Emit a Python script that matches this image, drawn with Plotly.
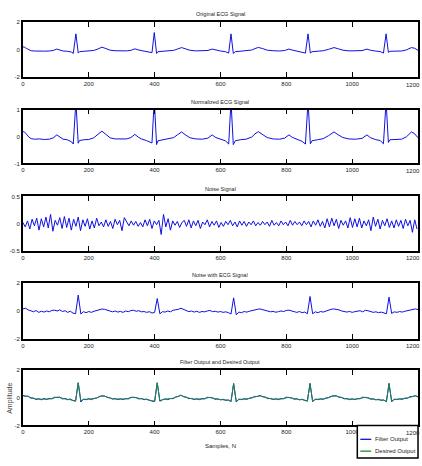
import plotly.graph_objects as go

# ---------------- data ----------------
# Original ECG (knots)
ecg_x = [0, 5, 10, 18, 25, 35, 50, 65, 80, 92, 103, 112, 122, 135, 148, 153, 161, 168, 172, 185,
         200, 215, 228, 240, 252, 265, 280, 300, 315, 328, 340, 350, 360, 375, 387, 392, 399, 406, 410, 425,
         440, 458, 470, 482, 495, 508, 525, 545, 562, 575, 586, 600, 615, 625, 632, 639, 645, 660, 678, 695,
         705, 715, 728, 742, 760, 780, 795, 808, 818, 832, 848, 858, 866, 873, 878, 895, 912, 928, 945, 958,
         972, 990, 1010, 1030, 1045, 1055, 1070, 1085, 1095, 1103, 1110, 1115, 1130, 1150, 1165, 1180, 1190, 1200]
ecg_orig = [0.2, 0.18, 0.1, -0.02, -0.08, -0.1, -0.08, -0.11, -0.1, -0.06, 0.04, -0.02, -0.1, -0.12, -0.18, -0.28, 1.15, -0.25, -0.15, -0.12,
            -0.11, -0.06, 0.05, 0.18, 0.08, -0.04, -0.08, -0.1, -0.09, -0.05, 0.06, -0.02, -0.08, -0.14, -0.2, -0.22, 1.25, -0.28, -0.15, -0.12,
            -0.1, -0.05, 0.05, 0.15, 0.05, -0.05, -0.09, -0.1, -0.06, 0.04, -0.04, -0.1, -0.15, -0.25, 1.15, -0.28, -0.15, -0.12, -0.1, -0.03,
            0.08, 0.16, 0.08, -0.04, -0.08, -0.1, -0.06, 0.04, -0.03, -0.1, -0.17, -0.25, 1.15, -0.25, -0.15, -0.12, -0.08, 0.02, 0.15, 0.06,
            -0.04, -0.09, -0.1, -0.07, 0.04, -0.04, -0.1, -0.14, -0.25, 1.15, -0.2, -0.12, -0.11, -0.1, -0.02, 0.15, 0.1, -0.05]
ecg_norm = [0.18, 0.17, 0.1, -0.02, -0.08, -0.1, -0.09, -0.11, -0.1, -0.05, 0.06, -0.02, -0.1, -0.12, -0.2, -0.28, 1.3, -0.25, -0.15, -0.12,
            -0.11, -0.05, 0.07, 0.2, 0.08, -0.05, -0.09, -0.1, -0.09, -0.04, 0.08, -0.02, -0.09, -0.15, -0.22, -0.24, 1.35, -0.3, -0.16, -0.12,
            -0.1, -0.04, 0.07, 0.17, 0.05, -0.05, -0.09, -0.1, -0.06, 0.06, -0.04, -0.1, -0.16, -0.28, 1.3, -0.3, -0.16, -0.12, -0.1, -0.02,
            0.1, 0.18, 0.08, -0.04, -0.09, -0.1, -0.06, 0.06, -0.03, -0.11, -0.18, -0.28, 1.3, -0.27, -0.16, -0.12, -0.08, 0.03, 0.17, 0.06,
            -0.04, -0.09, -0.1, -0.07, 0.06, -0.04, -0.11, -0.15, -0.27, 1.3, -0.22, -0.12, -0.11, -0.1, -0.01, 0.17, 0.1, -0.05]

# Noise signal, one value every 7 samples
noise_step = 7
noise_y = [0.02, -0.06, 0.05, -0.10, 0.08, -0.04, 0.10, -0.12, 0.09, -0.06, 0.12, -0.08, 0.17, -0.14, 0.06, -0.03, 0.11, -0.09, 0.13, -0.07, 0.10, -0.12, 0.08, -0.05,
           0.12, -0.13, 0.07, -0.05, 0.09, -0.10, 0.05, -0.08, 0.10, -0.04, 0.03, -0.06, 0.07, -0.05, 0.04, -0.09, 0.08, -0.02, 0.06, -0.13, 0.11, 0.03, -0.04, 0.05,
           -0.03, 0.04, -0.05, 0.02, -0.06, 0.07, -0.04, 0.08, -0.09, 0.05, -0.02, 0.06, -0.20, 0.17, -0.06, 0.09, -0.12, 0.05, -0.03, 0.04, -0.07, 0.02, 0.06, -0.05,
           0.07, -0.08, 0.05, -0.04, 0.06, -0.09, 0.03, -0.02, 0.07, -0.06, 0.04, -0.03, 0.05, -0.07, 0.02, -0.05, 0.04, -0.02, 0.06, -0.04, 0.03, -0.06, 0.05, -0.03,
           0.04, -0.05, 0.03, -0.02, 0.05, -0.04, 0.02, -0.03, 0.04, -0.02, 0.03, -0.05, 0.06, -0.03, 0.02, -0.04, 0.05, -0.02, 0.03, -0.04, 0.06, -0.03, 0.04, -0.02,
           0.03, -0.04, 0.05, -0.02, 0.04, -0.06, 0.05, -0.03, 0.07, -0.05, 0.04, -0.08, 0.09, -0.06, 0.10, -0.04, 0.08, -0.09, 0.06, -0.03, 0.05, -0.08, 0.11, -0.07,
           0.09, -0.06, 0.10, -0.08, 0.05, -0.04, 0.07, -0.13, 0.12, -0.05, 0.08, -0.10, 0.06, -0.04, 0.09, -0.07, 0.05, -0.08, 0.07, -0.05, 0.06, -0.09, 0.08, -0.04,
           0.06, -0.16, 0.07, -0.10]

# Panels 4 and 5, one value every 8 samples
step8 = 8
noisy_ecg = [0.15, 0.2, 0.08, 0.02, -0.05, 0.03, -0.1, -0.02, -0.08, 0.0,
             -0.06, 0.04, 0.06, 0.0, 0.08, -0.04, 0.02, -0.1, -0.02, -0.15,
             -0.2, 1.15, -0.22, -0.05, -0.12, -0.04, -0.1, -0.02, 0.02, 0.1,
             0.14, 0.12, 0.05, -0.02, -0.06, 0.0, -0.08, -0.03, -0.1, 0.0,
             -0.05, 0.03, 0.05, -0.02, 0.02, -0.06, -0.04, -0.1, -0.05, -0.15,
             -0.1, 0.9, -0.2, -0.05, -0.08, 0.0, -0.06, 0.05, 0.08, 0.12,
             0.2, 0.1, 0.02, -0.05, 0.0, -0.08, -0.02, -0.1, -0.04, -0.06,
             0.0, 0.04, -0.05, -0.02, -0.08, -0.04, -0.1, -0.06, -0.12, -0.22,
             0.95, -0.28, -0.08, -0.12, -0.04, -0.08, -0.02, 0.04, 0.1, 0.12,
             0.15, 0.1, 0.03, -0.02, -0.06, -0.03, -0.09, -0.05, 0.0, -0.04,
             0.04, 0.06, -0.02, -0.05, -0.1, -0.04, -0.12, -0.08, -0.2, 1.05,
             -0.2, -0.06, -0.12, -0.04, -0.08, 0.0, 0.06, 0.12, 0.15, 0.14,
             0.08, 0.0, -0.04, -0.08, -0.03, -0.1, -0.05, -0.02, 0.02, -0.06,
             0.05, 0.02, -0.04, -0.1, -0.06, -0.12, -0.08, -0.15, -0.2, 1.0,
             -0.18, -0.06, -0.1, -0.04, -0.08, -0.02, 0.02, 0.08, 0.12, 0.15, 0.1]
desired_out = [0.15, 0.15, 0.1, 0.02, -0.04, -0.08, -0.1, -0.1, -0.09, -0.1,
               -0.08, -0.04, 0.03, 0.05, 0.02, -0.04, -0.08, -0.1, -0.12, -0.18,
               -0.25, 1.1, -0.22, -0.12, -0.1, -0.1, -0.09, -0.06, 0.0, 0.08,
               0.15, 0.12, 0.05, -0.02, -0.06, -0.08, -0.1, -0.1, -0.09, -0.08,
               -0.05, 0.02, 0.05, 0.0, -0.05, -0.08, -0.1, -0.12, -0.15, -0.22,
               -0.25, 1.1, -0.25, -0.12, -0.1, -0.1, -0.08, -0.03, 0.05, 0.12,
               0.18, 0.1, 0.03, -0.03, -0.07, -0.09, -0.1, -0.1, -0.08, -0.05,
               0.02, 0.04, -0.02, -0.08, -0.1, -0.12, -0.13, -0.15, -0.18, -0.25,
               1.05, -0.25, -0.12, -0.1, -0.1, -0.08, -0.05, 0.02, 0.08, 0.12,
               0.15, 0.1, 0.03, -0.03, -0.07, -0.09, -0.1, -0.1, -0.08, -0.04,
               0.02, 0.04, -0.02, -0.07, -0.1, -0.12, -0.13, -0.16, -0.25, 1.05,
               -0.25, -0.12, -0.1, -0.1, -0.08, -0.04, 0.03, 0.1, 0.15, 0.13,
               0.06, 0.0, -0.04, -0.08, -0.1, -0.1, -0.1, -0.08, -0.04, 0.02,
               0.04, -0.01, -0.07, -0.1, -0.12, -0.13, -0.15, -0.18, -0.25, 1.05,
               -0.25, -0.12, -0.1, -0.1, -0.08, -0.05, 0.0, 0.06, 0.12, 0.14, 0.06]
filter_out = [0.18, 0.12, 0.12, -0.02, -0.02, -0.12, -0.06, -0.14, -0.05, -0.12,
              -0.04, -0.08, 0.05, 0.02, 0.06, -0.08, -0.04, -0.14, -0.08, -0.2,
              -0.22, 1.08, -0.3, -0.08, -0.14, -0.06, -0.13, -0.04, -0.02, 0.1,
              0.13, 0.14, 0.03, 0.0, -0.09, -0.05, -0.13, -0.07, -0.12, -0.05,
              -0.08, 0.04, 0.03, 0.02, -0.08, -0.05, -0.13, -0.09, -0.18, -0.2,
              -0.27, 1.08, -0.22, -0.15, -0.07, -0.13, -0.05, -0.06, 0.07, 0.1,
              0.2, 0.08, 0.05, -0.06, -0.04, -0.12, -0.07, -0.13, -0.05, -0.08,
              0.04, 0.02, 0.0, -0.11, -0.07, -0.15, -0.1, -0.18, -0.15, -0.28,
              1.03, -0.3, -0.09, -0.13, -0.07, -0.11, -0.02, 0.0, 0.1, 0.1,
              0.17, 0.08, 0.05, -0.06, -0.04, -0.12, -0.07, -0.13, -0.05, -0.07,
              0.05, 0.02, 0.0, -0.1, -0.07, -0.15, -0.1, -0.19, -0.22, 1.03,
              -0.28, -0.09, -0.13, -0.07, -0.11, -0.01, 0.01, 0.12, 0.13, 0.15,
              0.04, 0.03, -0.07, -0.05, -0.13, -0.07, -0.13, -0.05, -0.07, 0.05,
              0.02, 0.01, -0.1, -0.07, -0.15, -0.1, -0.18, -0.15, -0.28, 1.03,
              -0.28, -0.09, -0.13, -0.07, -0.11, -0.02, -0.03, 0.09, 0.1, 0.16, 0.08]

titles = ["Original ECG Signal", "Normalized ECG Signal", "Noise Signal",
          "Noise with ECG Signal", "Filter Output and Desired Output"]
y_ranges = [[-2, 2], [-1, 1], [-0.5, 0.5], [-2, 2], [-2, 2]]
y_ticks = [[-2, 0, 2], [-1, 0, 1], [-0.5, 0, 0.5], [-2, 0, 2], [-2, 0, 2]]
y_ticklabels = [["-2", "0", "2"], ["-1", "0", "1"], ["-0.5", "0", "0.5"], ["-2", "0", "2"], ["-2", "0", "2"]]
x_ticks = [0, 200, 400, 600, 800, 1000, 1200]
legend_labels = ["Filter Output", "Desired Output"]

# ---------------- layout helpers ----------------
W, H = 422, 466
FONT = "Liberation Sans Narrow, Arial Narrow, Liberation Sans, Arial, sans-serif"
BLUE = "#1010e0"
GREEN = "#1e8a3c"
panel_px = [(19.5, 75), (108, 162.5), (196, 251), (284, 340), (372, 428)]
x_left, x_right = 21, 418

def py(p):
    return 1 - p / H

def px(p):
    return p / W

noise_x = [i * noise_step for i in range(len(noise_y))]
x8 = [i * step8 for i in range(len(noisy_ecg))]

fig = go.Figure()
series = [
    [(ecg_x, ecg_orig, BLUE)],
    [(ecg_x, ecg_norm, BLUE)],
    [(noise_x, noise_y, BLUE)],
    [(x8, noisy_ecg, BLUE)],
    [(x8, filter_out, BLUE), (x8, desired_out, GREEN)],
]
annotations = []
for k, traces in enumerate(series):
    sfx = "" if k == 0 else str(k + 1)
    for (xs, ys, col) in traces:
        fig.add_trace(go.Scatter(x=xs, y=ys, mode="lines", line=dict(color=col, width=1),
                                 xaxis="x" + sfx, yaxis="y" + sfx, showlegend=False,
                                 hoverinfo="skip"))
    top, bot = panel_px[k]
    fig.layout["xaxis" + sfx] = dict(
        domain=[px(x_left), px(x_right)], anchor="y" + sfx, range=[0, 1200],
        tickvals=x_ticks, ticktext=[str(v) for v in x_ticks[:-1]] + [""],
        ticks="inside", ticklen=5, tickwidth=1.2, tickcolor="black",
        showline=True, linecolor="black", linewidth=1.5, mirror="allticks",
        showgrid=False, zeroline=False,
        tickfont=dict(family=FONT, size=6, color="#222"))
    fig.layout["yaxis" + sfx] = dict(
        domain=[py(bot), py(top)], anchor="x" + sfx, range=y_ranges[k],
        tickvals=y_ticks[k], ticktext=y_ticklabels[k],
        ticks="", showline=True, linecolor="black", linewidth=1.5, mirror=True,
        showgrid=False, zeroline=False,
        tickfont=dict(family=FONT, size=6, color="#222"))
    # last x tick label, which sits at the right edge of the figure
    annotations.append(dict(text=str(x_ticks[-1]), x=1.0, y=py(bot + 2.5), xref="paper", yref="paper",
                            xanchor="right", yanchor="top", showarrow=False,
                            font=dict(family=FONT, size=6, color="#222")))

for k, t in enumerate(titles):
    top, bot = panel_px[k]
    annotations.append(dict(text=t, x=px((x_left + x_right) / 2), y=py(top - 3),
                            xref="paper", yref="paper", xanchor="center", yanchor="bottom",
                            showarrow=False, font=dict(family=FONT, size=5.5, color="#222")))
annotations.append(dict(text="Samples, N", x=px(220), y=py(449), xref="paper", yref="paper",
                        xanchor="center", yanchor="middle", showarrow=False,
                        font=dict(family=FONT, size=6, color="#222")))
annotations.append(dict(text="Amplitude", x=px(8), y=py(400), xref="paper", yref="paper",
                        xanchor="center", yanchor="middle", textangle=-90, showarrow=False,
                        font=dict(family="Liberation Sans, Arial, sans-serif", size=7, color="#444")))

# manual legend box
lx0, lx1, ly0, ly1 = 357, 418, 428, 461
shapes = [dict(type="rect", xref="paper", yref="paper", x0=px(lx0), x1=px(lx1), y0=py(ly1), y1=py(ly0),
               line=dict(color="black", width=1.5), fillcolor="white", layer="above")]
for i, (lab, col) in enumerate(zip(legend_labels, [BLUE, GREEN])):
    yy = 442 + i * 12
    shapes.append(dict(type="line", xref="paper", yref="paper", x0=px(360), x1=px(371),
                       y0=py(yy), y1=py(yy), line=dict(color=col, width=1.3), layer="above"))
    annotations.append(dict(text=lab, x=px(373), y=py(yy), xref="paper", yref="paper",
                            xanchor="left", yanchor="middle", showarrow=False,
                            font=dict(family=FONT, size=6, color="#222")))

fig.update_layout(width=W, height=H, margin=dict(l=0, r=0, t=0, b=0),
                  paper_bgcolor="white", plot_bgcolor="white",
                  annotations=annotations, shapes=shapes, showlegend=False)

fig.write_html("out.html")
